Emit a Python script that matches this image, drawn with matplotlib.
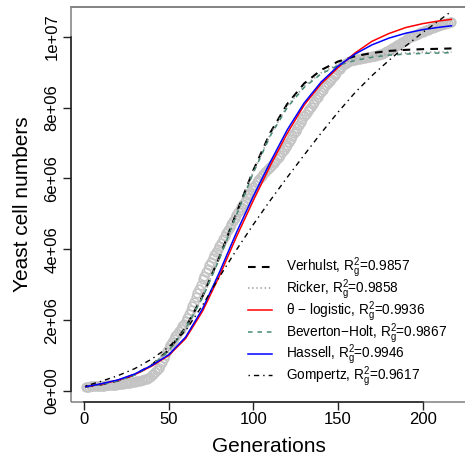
import matplotlib
matplotlib.use("Agg")
import matplotlib.pyplot as plt
from matplotlib.patches import Rectangle

plt.rcParams['font.family'] = ['Liberation Sans', 'DejaVu Sans']
plt.rcParams['mathtext.fontset'] = 'custom'
plt.rcParams['mathtext.rm'] = 'Liberation Sans'
plt.rcParams['mathtext.it'] = 'Liberation Sans'
plt.rcParams['lines.scale_dashes'] = False

# ---- observed data (generations 1..217), values in millions of cells ----
obs_gen = list(range(1, 218))
obs_cells = [
    0.12, 0.12, 0.12, 0.13, 0.13, 0.13, 0.14, 0.14, 0.14, 0.15,
    0.15, 0.15, 0.16, 0.16, 0.16, 0.17, 0.17, 0.18, 0.18, 0.19,
    0.19, 0.20, 0.20, 0.21, 0.22, 0.22, 0.23, 0.24, 0.25, 0.26,
    0.27, 0.28, 0.29, 0.30, 0.32, 0.33, 0.35, 0.37, 0.40, 0.44,
    0.48, 0.53, 0.59, 0.66, 0.74, 0.83, 0.92, 1.02, 1.12, 1.22,
    1.30, 1.38, 1.46, 1.54, 1.62, 1.69, 1.76, 1.83, 1.90, 1.97,
    2.07, 2.18, 2.29, 2.40, 2.52, 2.64, 2.76, 2.88, 3.00, 3.15,
    3.25, 3.35, 3.45, 3.55, 3.65, 3.74, 3.83, 3.92, 4.01, 4.10,
    4.19, 4.28, 4.37, 4.46, 4.55, 4.64, 4.72, 4.80, 4.88, 4.96,
    5.04, 5.12, 5.20, 5.28, 5.36, 5.44, 5.52, 5.60, 5.68, 5.75,
    5.82, 5.89, 5.96, 6.02, 6.08, 6.13, 6.18, 6.23, 6.28, 6.33,
    6.38, 6.43, 6.48, 6.54, 6.60, 6.67, 6.74, 6.81, 6.88, 6.95,
    7.03, 7.11, 7.19, 7.27, 7.35, 7.43, 7.51, 7.59, 7.67, 7.75,
    7.82, 7.89, 7.96, 8.03, 8.10, 8.17, 8.24, 8.31, 8.38, 8.45,
    8.51, 8.57, 8.63, 8.69, 8.75, 8.81, 8.87, 8.93, 8.99, 9.05,
    9.10, 9.15, 9.19, 9.23, 9.26, 9.29, 9.31, 9.33, 9.34, 9.35,
    9.36, 9.37, 9.38, 9.39, 9.40, 9.41, 9.42, 9.43, 9.44, 9.45,
    9.46, 9.47, 9.48, 9.49, 9.50, 9.52, 9.54, 9.56, 9.59, 9.62,
    9.65, 9.68, 9.71, 9.74, 9.77, 9.80, 9.83, 9.86, 9.89, 9.92,
    9.95, 9.98, 10.00, 10.02, 10.04, 10.06, 10.08, 10.10, 10.12, 10.14,
    10.16, 10.18, 10.20, 10.22, 10.24, 10.26, 10.28, 10.29, 10.31, 10.32,
    10.34, 10.35, 10.37, 10.38, 10.40, 10.41, 10.43,
]

# ---- fitted model curves (millions of cells), sampled generations ----
fit_gen = [1, 10, 20, 30, 40, 50, 60, 70, 80, 90, 100, 110, 120,
           130, 140, 150, 160, 170, 180, 190, 200, 210, 217]
verhulst = [0.12, 0.18, 0.29, 0.46, 0.73, 1.15, 1.79, 2.67, 3.78, 5.02, 6.23, 7.29, 8.10,
            8.68, 9.06, 9.30, 9.45, 9.54, 9.60, 9.63, 9.65, 9.66, 9.67]
ricker = [0.12, 0.18, 0.29, 0.46, 0.73, 1.14, 1.77, 2.65, 3.76, 4.99, 6.19, 7.24, 8.04,
          8.61, 8.98, 9.22, 9.37, 9.46, 9.51, 9.54, 9.56, 9.57, 9.57]
theta_logistic = [0.12, 0.19, 0.30, 0.46, 0.70, 1.00, 1.48, 2.25, 3.25, 4.35, 5.38, 6.36, 7.27,
                  8.07, 8.67, 9.13, 9.54, 9.87, 10.09, 10.26, 10.37, 10.45, 10.49]
beverton_holt = [0.12, 0.18, 0.29, 0.45, 0.72, 1.13, 1.76, 2.63, 3.73, 4.96, 6.16, 7.20, 8.00,
                 8.57, 8.95, 9.19, 9.33, 9.42, 9.48, 9.51, 9.53, 9.54, 9.55]
hassell = [0.12, 0.20, 0.31, 0.48, 0.72, 1.02, 1.52, 2.32, 3.35, 4.47, 5.50, 6.46, 7.37,
           8.13, 8.72, 9.17, 9.51, 9.77, 9.96, 10.10, 10.20, 10.27, 10.31]
gompertz = [0.14, 0.27, 0.43, 0.63, 0.90, 1.24, 1.70, 2.42, 3.22, 3.98, 4.70, 5.38, 6.03,
            6.66, 7.28, 7.87, 8.42, 8.90, 9.33, 9.74, 10.12, 10.47, 10.72]

labels = [
    r"Verhulst, $\mathregular{R_g^2}$=0.9857",
    r"Ricker, $\mathregular{R_g^2}$=0.9858",
    "\u03b8 \u2212 logistic, " + r"$\mathregular{R_g^2}$=0.9936",
    "Beverton\u2212Holt, " + r"$\mathregular{R_g^2}$=0.9867",
    r"Hassell, $\mathregular{R_g^2}$=0.9946",
    r"Gompertz, $\mathregular{R_g^2}$=0.9617",
]
x_ticks = [0, 50, 100, 150, 200]
y_ticks = [0, 2e6, 4e6, 6e6, 8e6, 1e7]
y_tick_labels = ["0e+00", "2e+06", "4e+06", "6e+06", "8e+06", "1e+07"]

M = 1e6
W, H = 465, 458
fig = plt.figure(figsize=(W / 100, H / 100), dpi=100)
ax_left, ax_right, ax_top, ax_bot = 71.06, 466.1, 7, 402
ax = fig.add_axes([ax_left / W, 1 - ax_bot / H, (ax_right - ax_left) / W, (ax_bot - ax_top) / H])

ax.plot(obs_gen, [v * M for v in obs_cells], linestyle='none', marker='o',
        markersize=6.2, markerfacecolor='none', markeredgecolor='#C4C4C4',
        markeredgewidth=1.2, zorder=2)

def fit(y):
    return [v * M for v in y]

l1, = ax.plot(fit_gen, fit(verhulst), color='black', lw=1.5, dashes=(5.5, 4.5), zorder=4)
l2, = ax.plot(fit_gen, fit(ricker), color='#A8A8A8', lw=1.3, dashes=(1.0, 2.0), zorder=4)
l3, = ax.plot(fit_gen, fit(theta_logistic), color='#FF0000', lw=1.1, zorder=4)
l4, = ax.plot(fit_gen, fit(beverton_holt), color='#458B74', lw=1.1, dashes=(3.3, 3.5), zorder=4)
l5, = ax.plot(fit_gen, fit(hassell), color='#0000FF', lw=1.1, zorder=4)
l6, = ax.plot(fit_gen, fit(gompertz), color='black', lw=1.0, dashes=(1.0, 2.9, 3.8, 2.9), zorder=4)

ax.set_xlim(-7.64, 225.64)
ax.set_ylim(-0.313e6, 10.84e6)

# R-like box (grey) and axis lines (black) spanning first..last tick
for s in ['top', 'right']:
    ax.spines[s].set_color('#7F7F7F')
for s in ['left', 'bottom']:
    ax.spines[s].set_color('#222222')
    ax.spines[s].set_linewidth(1.1)
ax.spines['top'].set_linewidth(1.1)
ax.spines['left'].set_bounds(0, 1e7)
ax.spines['bottom'].set_bounds(0, 200)
ax.add_patch(Rectangle((0, 0), 1, 1, transform=ax.transAxes, fill=False,
                       edgecolor='#7F7F7F', lw=1.1, zorder=0.5, clip_on=False))

ax.set_xticks(x_ticks)
ax.set_yticks(y_ticks)
ax.set_yticklabels(y_tick_labels)
ax.tick_params(axis='both', length=5.8, width=1.0, color='#222222', labelsize=12)
ax.tick_params(axis='x', pad=1.5)
ax.tick_params(axis='y', pad=2.5, labelrotation=90)
for lab in ax.get_yticklabels():
    lab.set_va('center')

fig.text(268.5 / W, 1 - 452 / H, "Generations", fontsize=15, ha='center', va='baseline')
fig.text(28.5 / W, 1 - 204.5 / H, "Yeast cell numbers", fontsize=15, ha='center',
         va='baseline', rotation=90, rotation_mode='anchor')

leg = fig.legend([l1, l2, l3, l4, l5, l6], labels, loc='center left',
                 bbox_to_anchor=(248 / W, 1 - 322.5 / H), frameon=False,
                 fontsize=9.8, handlelength=1.75, handletextpad=1.05,
                 labelspacing=-0.2, borderpad=0, borderaxespad=0)

fig.savefig("out.png", dpi=100)
